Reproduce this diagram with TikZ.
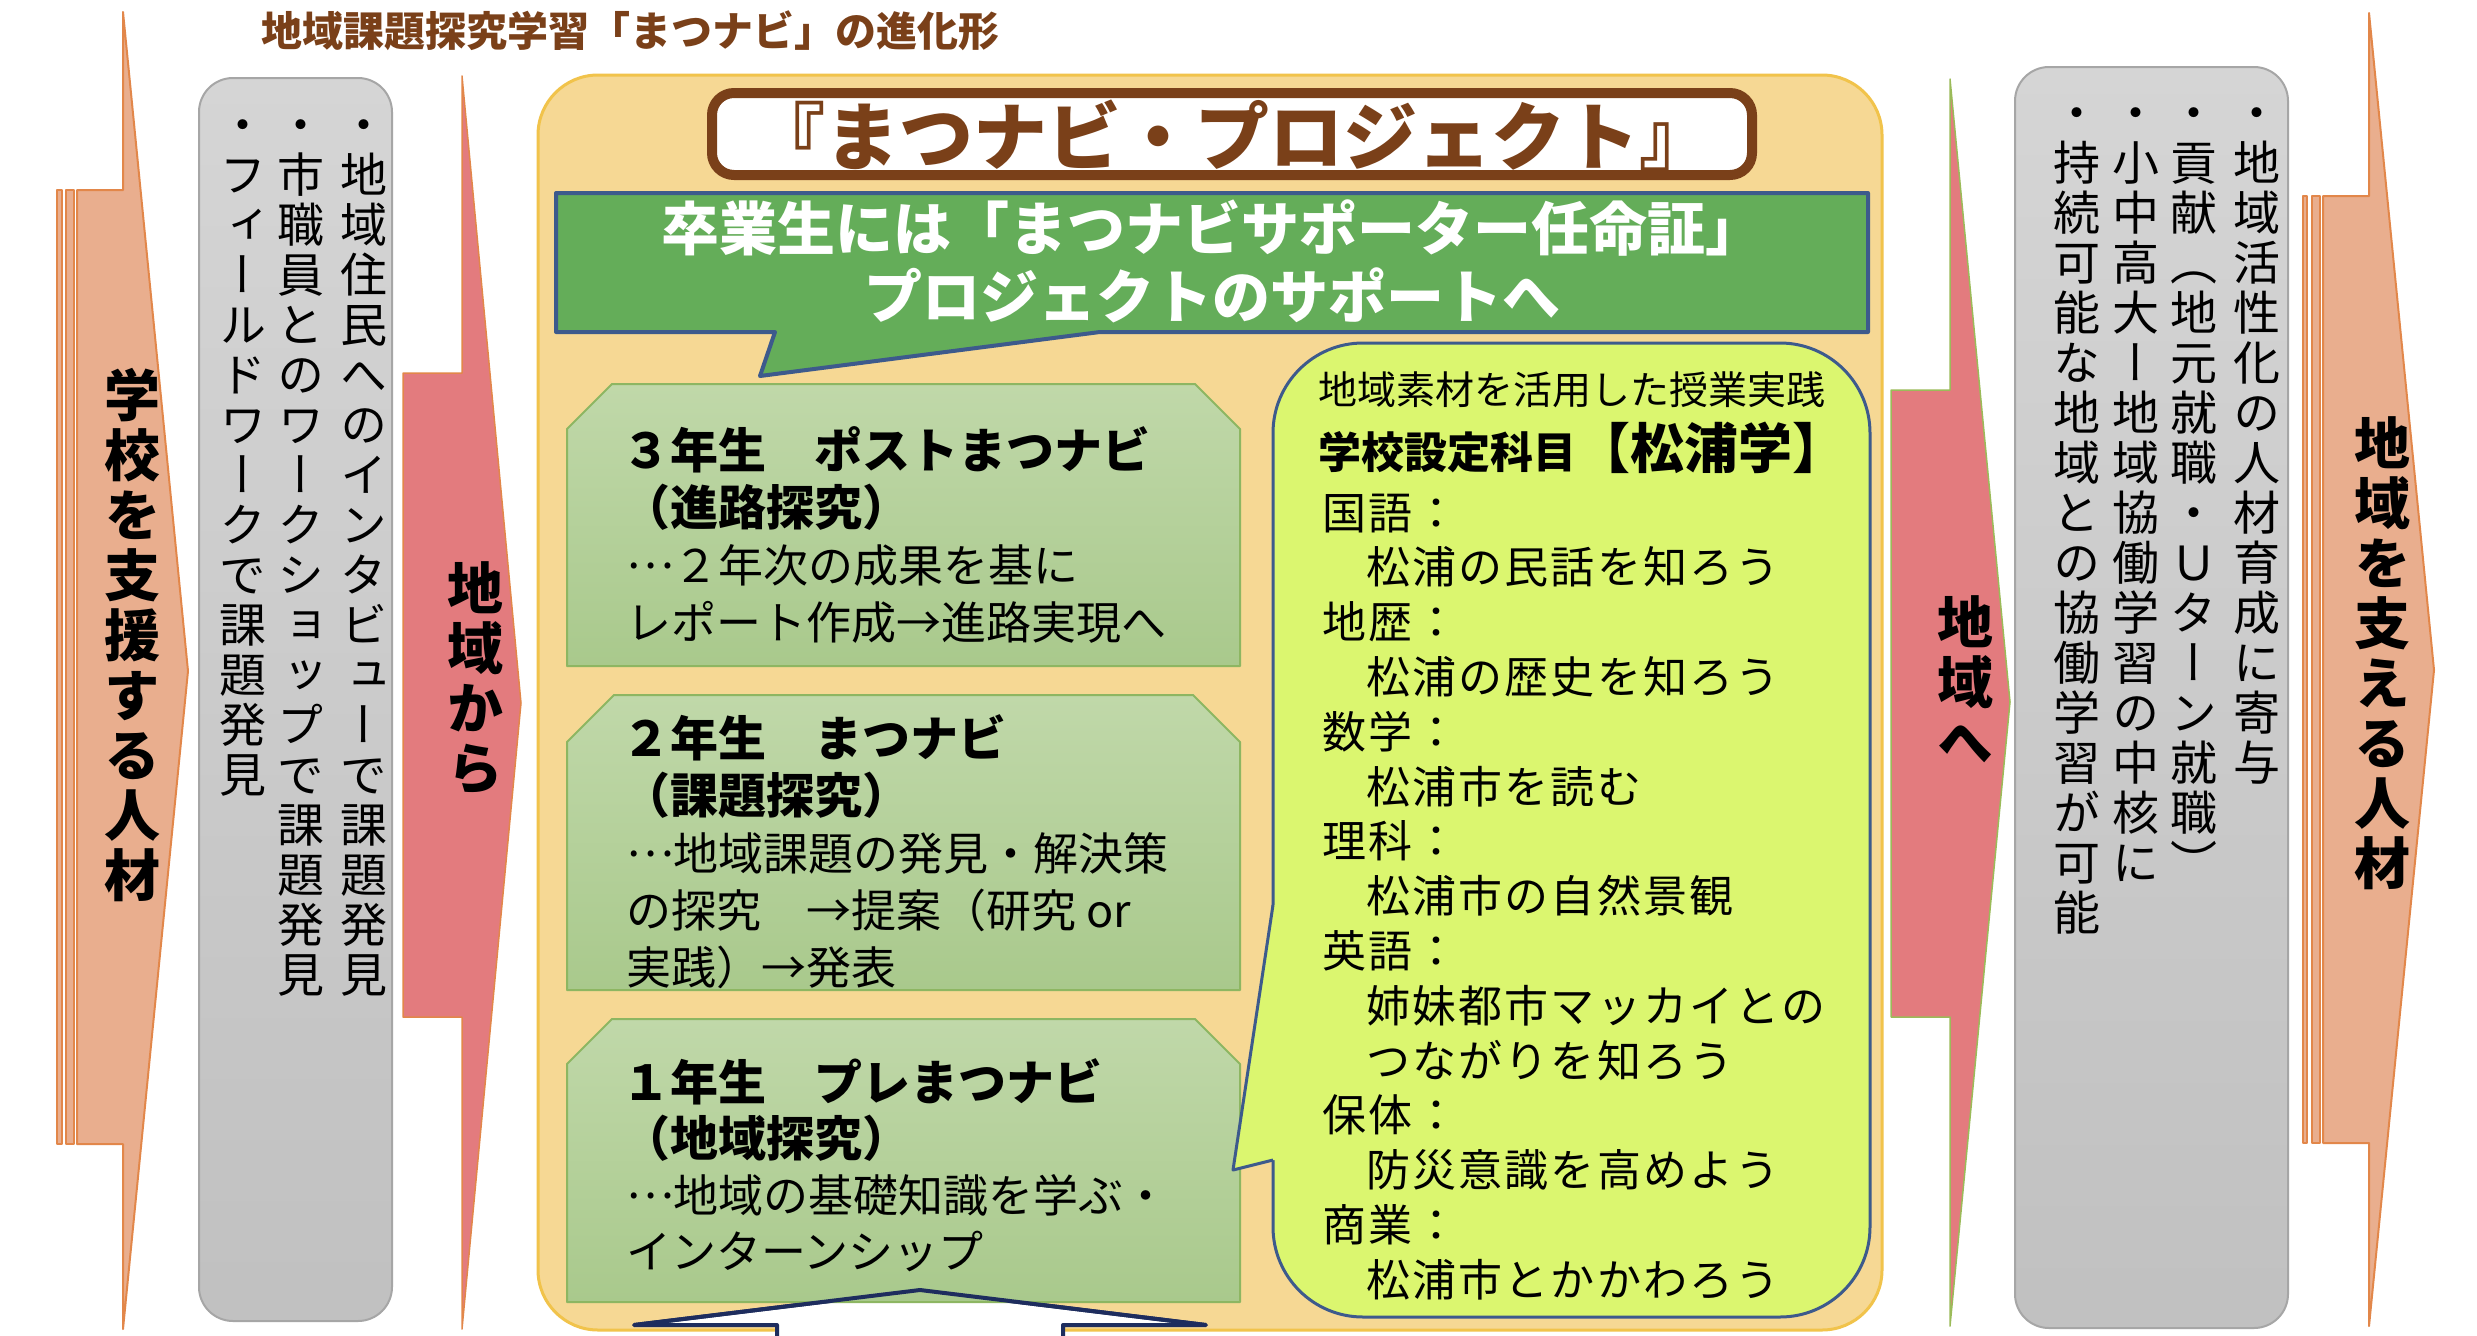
\documentclass[tikz,border=0pt]{standalone}
\usepackage{fontspec}
\setmainfont{Noto Sans CJK JP}
\newfontfamily\tatefont[RawFeature=+vert]{Noto Sans CJK JP}
\newfontfamily\widefont[LetterSpace=5]{Noto Sans CJK JP}

\definecolor{peach}{HTML}{E9AE8E}
\definecolor{peachline}{HTML}{E2874A}
\definecolor{rose}{HTML}{E37B7E}
\definecolor{sand}{HTML}{F6D894}
\definecolor{sandline}{HTML}{F1C34B}
\definecolor{bark}{HTML}{7A4019}
\definecolor{leaf}{HTML}{64AD59}
\definecolor{navy}{HTML}{3D5A8C}
\definecolor{lime}{HTML}{DBF66F}
\definecolor{sagetop}{HTML}{C0D8A9}
\definecolor{sagebot}{HTML}{A9C98C}
\definecolor{sageline}{HTML}{8DB662}
\definecolor{olive}{HTML}{9BBB59}
\definecolor{ink}{HTML}{1E2D5E}

% vertical writing: one character per line
\newcommand\tateend{}
\def\tateloop#1{\ifx#1\tateend\else
  \hbox to 1em{\hss\rule[-.12em]{0pt}{1em}#1\hss}\expandafter\tateloop\fi}
\newcommand\tate[2]{\vtop{\baselineskip=#1\lineskiplimit=-100pt\lineskip=0pt
  \tateloop#2\tateend}}
\newcommand\leader{\raisebox{.3em}{…}}

\begin{document}
\begin{tikzpicture}[x=1pt,y=-1pt,line join=round]
    \tikzstyle{flowarrow}=[fill=peach,draw=peachline,line width=2pt]
    \tikzstyle{regionarrow}=[fill=rose,draw=peachline,line width=1.5pt]
    \tikzstyle{notebox}=[top color=gray!33,bottom color=gray!49,draw=gray!70,line width=2pt,rounded corners=34pt]
    \tikzstyle{gradebox}=[top color=sagetop,bottom color=sagebot,draw=sageline,line width=2pt]
    \tikzstyle{vtext}=[inner sep=0pt,anchor=north,font=\tatefont\fontsize{47}{50}\selectfont]
    \tikzstyle{vhead}=[vtext,font=\tatefont\bfseries\fontsize{56}{60}\selectfont]
    \tikzstyle{gradehead}=[inner sep=0pt,anchor=base west,font=\bfseries\fontsize{48}{57}\selectfont]
    \tikzstyle{gradebody}=[inner sep=0pt,anchor=base west,font=\fontsize{45}{57}\selectfont]
    \tikzstyle{subject}=[inner sep=0pt,anchor=base west,font=\widefont\fontsize{44}{55}\selectfont]

    \useasboundingbox[fill=white] (0,0) rectangle (2477,1336);

    % side arrows
    \draw[flowarrow] (77,190) -- (123,190) -- (123,12) -- (188,671) -- (123,1329) -- (123,1144) -- (77,1144) -- cycle;
    \draw[flowarrow] (57,190) rectangle (62,1144);
    \draw[flowarrow] (66,190) rectangle (74,1144);
    \draw[regionarrow] (403,373) -- (462,373) -- (462,76) -- (521,703) -- (462,1329) -- (462,1017) -- (403,1017) -- cycle;
    \draw[regionarrow,draw=olive] (1891,390) -- (1950,390) -- (1950,79) -- (2010,702) -- (1950,1326) -- (1950,1017) -- (1891,1017) -- cycle;
    \draw[flowarrow] (2323,196) -- (2369,196) -- (2369,13) -- (2434,670) -- (2369,1326) -- (2369,1143) -- (2323,1143) -- cycle;
    \draw[flowarrow] (2303,196) rectangle (2307,1143);
    \draw[flowarrow] (2312,196) rectangle (2320,1143);

    \draw[notebox] (199,78) rectangle (392,1321);
    \draw[notebox] (2015,67) rectangle (2288,1328);

    % project panel
    \draw[fill=sand,draw=sandline,line width=3pt,rounded corners=60pt] (538,75) rectangle (1882,1330);
    \draw[draw=bark,fill=white,line width=10pt,rounded corners=22pt] (712,93) rectangle (1752,175);
    \draw[fill=leaf,draw=navy,line width=4pt] (556,193) -- (1868,193) -- (1868,332) -- (1100,332) -- (760,376) -- (775,332) -- (556,332) -- cycle;

    \draw[gradebox] (567,429) -- (612,384) -- (1195,384) -- (1240,429) -- (1240,666) -- (567,666) -- cycle;
    \draw[gradebox] (567,742) -- (614,695) -- (1193,695) -- (1240,742) -- (1240,990) -- (567,990) -- cycle;
    \draw[fill=white,draw=ink,line width=4pt] (777,1345) -- (777,1325) -- (634,1325) -- (920,1290) -- (1206,1325) -- (1063,1325) -- (1063,1345);
    \draw[gradebox] (567,1064) -- (612,1019) -- (1195,1019) -- (1240,1064) -- (1240,1302) -- (567,1302) -- cycle;
    \draw[draw=ink,line width=4pt] (634,1325) -- (920,1290) -- (1206,1325);

    \draw[fill=lime,draw=navy,line width=3pt,rounded corners=90pt] (1273,343) rectangle (1870,1317);
    \fill[lime] (1273,905) -- (1233,1170) -- (1273,1160) -- (1279,1160) -- (1279,905) -- cycle;
    \draw[navy,line width=3pt] (1273,905) -- (1233,1170) -- (1273,1160);

    % texts
    \node[anchor=base west,inner sep=0pt,text=bark,font=\bfseries\fontsize{41}{41}\selectfont] (heading) at (261,46) {地域課題探究学習「まつナビ」の進化形};
    \node[inner sep=0pt,text=bark,font=\bfseries\fontsize{74}{74}\selectfont] (project) at (1232,136) {『まつナビ・プロジェクト』};
    \node[inner sep=0pt,text=white,align=center,font=\bfseries\fontsize{58}{68}\selectfont] (grad) at (1212,261) {卒業生には「まつナビサポーター任命証」\\プロジェクトのサポートへ};

    \node[vhead] (supportin) at (132,367) {\tate{60pt}{学校を支援する人材}};
    \node[vhead] (fromarea) at (475,560) {\tate{60pt}{地域から}};
    \node[vhead] (toarea) at (1965,594) {\tate{60pt}{地域へ}};
    \node[vhead] (supportout) at (2382,415) {\tate{60pt}{地域を支える人材}};

    \node[vtext] (inA) at (364,101) {\tate{50pt}{・地域住民へのインタビューで課題発見}};
    \node[vtext] (inB) at (301,101) {\tate{50pt}{・市職員とのワークショップで課題発見}};
    \node[vtext] (inC) at (243,101) {\tate{50pt}{・フィールドワークで課題発見}};
    \node[vtext] (outA) at (2257,89) {\tate{50pt}{・地域活性化の人材育成に寄与}};
    \node[vtext] (outB) at (2194,89) {\tate{50pt}{・貢献（地元就職・Ｕターン就職）}};
    \node[vtext] (outC) at (2136,89) {\tate{50pt}{・小中高大ー地域協働学習の中核に}};
    \node[vtext] (outD) at (2077,89) {\tate{50pt}{・持続可能な地域との協働学習が可能}};

    \node[gradehead] (g3a) at (622,468) {３年生　ポストまつナビ};
    \node[gradehead] (g3b) at (622,525) {（進路探究）};
    \node[gradebody] (g3c) at (626,582) {\leader ２年次の成果を基に};
    \node[gradebody] (g3d) at (626,639) {レポート作成→進路実現へ};
    \node[gradehead] (g2a) at (622,756) {２年生　まつナビ};
    \node[gradehead] (g2b) at (622,813) {（課題探究）};
    \node[gradebody] (g2c) at (626,870) {\leader 地域課題の発見・解決策};
    \node[gradebody] (g2d) at (626,927) {の探究　→提案（研究 or};
    \node[gradebody] (g2e) at (626,984) {実践）→発表};
    \node[gradehead] (g1a) at (622,1100) {１年生　プレまつナビ};
    \node[gradehead] (g1b) at (622,1156) {（地域探究）};
    \node[gradebody] (g1c) at (626,1212) {\leader 地域の基礎知識を学ぶ・};
    \node[gradebody] (g1d) at (626,1268) {インターンシップ};

    \node[anchor=base west,inner sep=0pt,font=\fontsize{39}{39}\selectfont] (lesson) at (1318,404) {地域素材を活用した授業実践};
    \node[anchor=base west,inner sep=0pt,font=\bfseries\fontsize{43}{43}\selectfont] (course) at (1318,468) {学校設定科目{\fontsize{54}{54}\selectfont【松浦学】}};
    \foreach \txt [count=\i from 0] in {国語：,\hspace*{1em}松浦の民話を知ろう,地歴：,\hspace*{1em}松浦の歴史を知ろう,
        数学：,\hspace*{1em}松浦市を読む,理科：,\hspace*{1em}松浦市の自然景観,英語：,\hspace*{1em}姉妹都市マッカイとの,
        \hspace*{1em}つながりを知ろう,保体：,\hspace*{1em}防災意識を高めよう,商業：,\hspace*{1em}松浦市とかかわろう}
        \node[subject] (sub\i) at (1322,{529+54.8*\i}) {\txt};
\end{tikzpicture}
\end{document}
